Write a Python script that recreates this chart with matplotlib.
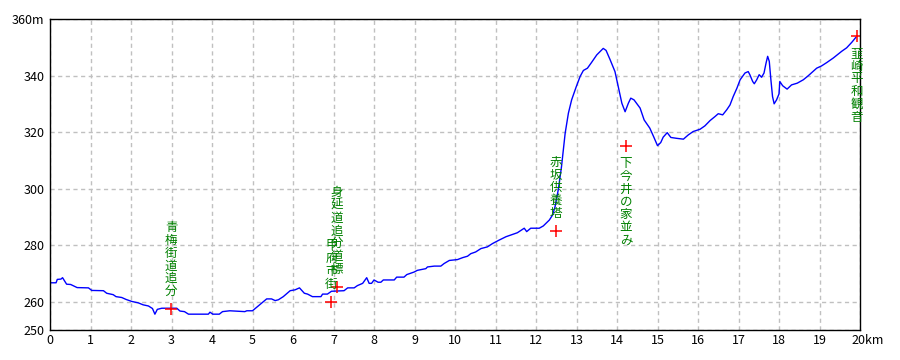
import matplotlib
matplotlib.use('Agg')
import matplotlib.pyplot as plt

plt.rcParams['font.family'] = ['Noto Sans CJK JP', 'DejaVu Sans']

# elevation profile (km, m)
dist_km = [0.00, 0.15, 0.18, 0.27, 0.31, 0.41, 0.51, 0.67, 0.95, 1.03, 1.32, 1.40,
           1.56, 1.63, 1.77, 1.88, 2.02, 2.18, 2.30, 2.43, 2.53, 2.59, 2.65, 2.76,
           3.13, 3.21, 3.32, 3.42, 3.91, 3.95, 4.02, 4.18, 4.26, 4.44, 4.81, 4.86,
           5.00, 5.10, 5.23, 5.35, 5.47, 5.56, 5.64, 5.76, 5.93, 6.05, 6.16, 6.28,
           6.36, 6.48, 6.69, 6.73, 6.85, 6.95, 7.26, 7.35, 7.51, 7.59, 7.72, 7.82,
           7.88, 7.94, 8.00, 8.10, 8.17, 8.23, 8.50, 8.56, 8.74, 8.81, 8.99, 9.07,
           9.28, 9.32, 9.49, 9.65, 9.73, 9.86, 10.06, 10.19, 10.31, 10.39, 10.51, 10.64,
           10.80, 10.93, 11.09, 11.26, 11.38, 11.54, 11.71, 11.77, 11.87, 12.08, 12.18, 12.33,
           12.41, 12.47, 12.55, 12.63, 12.72, 12.80, 12.88, 12.99, 13.09, 13.17, 13.27, 13.37,
           13.50, 13.66, 13.73, 13.83, 13.95, 14.03, 14.12, 14.20, 14.28, 14.34, 14.42, 14.57,
           14.67, 14.81, 14.91, 15.00, 15.08, 15.14, 15.24, 15.33, 15.47, 15.64, 15.76, 15.88,
           16.05, 16.17, 16.30, 16.42, 16.50, 16.61, 16.71, 16.79, 16.87, 16.96, 17.04, 17.16,
           17.24, 17.28, 17.35, 17.39, 17.45, 17.51, 17.57, 17.63, 17.68, 17.72, 17.76, 17.80,
           17.84, 17.88, 17.94, 18.00, 18.02, 18.09, 18.20, 18.31, 18.45, 18.60, 18.72, 18.93,
           19.05, 19.18, 19.34, 19.55, 19.67, 19.80, 19.92]
elev_m = [266.7, 266.7, 267.9, 268.0, 268.5, 266.2, 266.1, 265.0, 264.9, 264.0, 263.9, 263.0,
          262.5, 261.8, 261.5, 260.8, 260.1, 259.6, 258.9, 258.5, 257.6, 255.6, 257.3, 257.7,
          257.7, 256.7, 256.5, 255.6, 255.6, 256.3, 255.6, 255.6, 256.5, 256.8, 256.5, 256.8,
          256.8, 258.0, 259.6, 261.0, 261.0, 260.4, 260.7, 261.8, 263.9, 264.2, 264.9, 263.0,
          262.7, 261.8, 261.8, 262.7, 262.7, 263.7, 263.9, 264.9, 264.9, 265.7, 266.5, 268.5,
          266.5, 266.5, 267.7, 266.9, 266.9, 267.7, 267.7, 268.7, 268.7, 269.6, 270.5, 271.1,
          271.7, 272.3, 272.6, 272.6, 273.5, 274.6, 274.9, 275.6, 276.1, 277.0, 277.6, 278.8,
          279.4, 280.6, 281.8, 283.0, 283.6, 284.4, 286.0, 284.8, 286.0, 286.0, 286.8, 288.9,
          290.7, 293.6, 299.6, 307.8, 319.6, 326.7, 331.4, 335.9, 339.7, 341.8, 342.6, 344.6,
          347.3, 349.6, 348.9, 345.6, 341.4, 336.1, 330.2, 327.2, 330.2, 332.0, 331.4, 328.5,
          324.3, 321.4, 318.2, 315.2, 316.3, 318.2, 319.8, 318.1, 317.8, 317.5, 319.0, 320.2,
          321.0, 322.2, 324.1, 325.5, 326.5, 326.1, 327.9, 329.6, 332.6, 335.5, 338.5, 340.9,
          341.4, 340.3, 337.9, 337.1, 338.5, 340.3, 339.4, 340.9, 344.4, 346.8, 345.0, 338.5,
          332.6, 330.0, 331.4, 333.5, 337.9, 336.4, 335.2, 336.7, 337.3, 338.5, 339.9, 342.6,
          343.4, 344.6, 346.2, 348.6, 349.8, 351.8, 353.9]

# points of interest
poi_names = ['青梅街道追分', '甲府市街', '身延道追分道標', '赤坂供養塔', '下今井の家並み', '韮崎平和観音']
poi_km = [2.99, 6.95, 7.09, 12.49, 14.22, 19.92]
poi_elev = [257.4, 260.0, 265.2, 285.0, 315.1, 354.1]
poi_side = ['above', 'above', 'above', 'above', 'below', 'below']

x_ticks = list(range(0, 21))
x_labels = [str(k) for k in range(0, 20)] + ['']
y_ticks = [250, 260, 280, 300, 320, 340, 360]
y_labels = ['250', '260', '280', '300', '320', '340', '360m']

fig = plt.figure(figsize=(9, 3.6), dpi=100)
ax = fig.add_axes([50 / 900, 30 / 360, 810 / 900, 311 / 360])

ax.plot(dist_km, elev_m, color='#0000ff', lw=1)
ax.plot(poi_km, poi_elev, '+', color='#ff0000', markersize=9, mew=1.1, ls='none')

for name, km, el, side in zip(poi_names, poi_km, poi_elev, poi_side):
    vert = '\n'.join(name)
    if side == 'above':
        ax.annotate(vert, xy=(km, el), xytext=(0, 8), textcoords='offset points',
                    ha='center', va='bottom', color='#008000', fontsize=9, linespacing=0.98)
    else:
        ax.annotate(vert, xy=(km, el), xytext=(0, -8), textcoords='offset points',
                    ha='center', va='top', color='#008000', fontsize=9, linespacing=0.98)

ax.set_xlim(0, 20)
ax.set_ylim(250, 360)
ax.set_xticks(x_ticks)
ax.set_xticklabels(x_labels)
ax.set_yticks(y_ticks)
ax.set_yticklabels(y_labels)
ax.annotate('20km', xy=(20, 0), xycoords=('data', 'axes fraction'), xytext=(-6, -3),
            textcoords='offset points', ha='left', va='top', fontsize=9)
ax.tick_params(length=0, labelsize=9)
ax.tick_params(axis='x', pad=3)
ax.tick_params(axis='y', pad=4)

ax.grid(True, color='#c0c0c0', linestyle=(0, (3, 2.5)), lw=1)
for s in ax.spines.values():
    s.set_color('black')
    s.set_linewidth(1)

fig.savefig('out.png', dpi=100, facecolor='white')
